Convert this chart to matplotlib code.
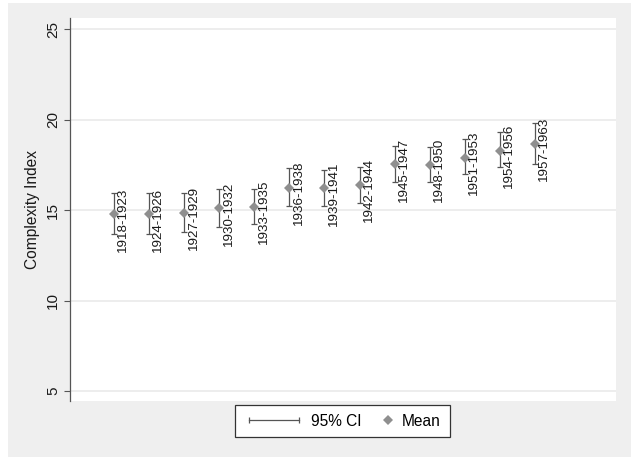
import matplotlib
matplotlib.use("Agg")
import matplotlib.pyplot as plt
import numpy as np
from matplotlib.lines import Line2D
from matplotlib.legend_handler import HandlerLine2D
from matplotlib.patches import Rectangle

plt.rcParams['font.family'] = ['Liberation Sans', 'DejaVu Sans']

periods = ["1918-1923", "1924-1926", "1927-1929", "1930-1932", "1933-1935",
           "1936-1938", "1939-1941", "1942-1944", "1945-1947", "1948-1950",
           "1951-1953", "1954-1956", "1957-1963"]
mean = [14.76, 14.76, 14.85, 15.09, 15.18, 16.23, 16.20, 16.38, 17.52, 17.49,
        17.89, 18.28, 18.65]
ci_low = [13.66, 13.66, 13.77, 14.04, 14.21, 15.24, 15.22, 15.40, 16.53, 16.53,
          16.97, 17.39, 17.54]
ci_high = [15.92, 15.92, 15.92, 16.16, 16.16, 17.30, 17.21, 17.36, 18.55, 18.46,
           18.91, 19.33, 19.82]
yticks = [5, 10, 15, 20, 25]

W, H = 631, 457
fig = plt.figure(figsize=(W / 100, H / 100), dpi=100)
fig.patch.set_facecolor("white")
fig.patches.append(Rectangle((8 / W, 0), 1 - 8 / W, 1 - 3 / H, transform=fig.transFigure,
                             facecolor="#efefef", edgecolor="none", zorder=-10))

ax = fig.add_axes([70 / W, 1 - 401 / H, (616 - 70) / W, (401 - 18) / H])
ax.set_facecolor("white")

x = np.arange(1, len(periods) + 1)
m = np.array(mean)
lo = np.array(ci_low)
hi = np.array(ci_high)

ci_color = "#555555"
mk_color = "#8f8f8f"

ax.errorbar(x, m, yerr=[m - lo, hi - m], fmt="none", ecolor=ci_color,
            elinewidth=0.9, capsize=2.3, capthick=0.9, zorder=3)
ax.plot(x, m, linestyle="none", marker="D", markersize=4.8, color=mk_color,
        markeredgewidth=0, zorder=4)
for xi, mi, lab in zip(x, m, periods):
    ax.annotate(lab, (xi, mi), xytext=(2.4, -3.8), textcoords="offset points",
                rotation=90, ha="left", va="center", fontsize=9.6, color="#1a1a1a",
                zorder=5)

ax.set_xlim(-0.254, 15.31)
ax.set_ylim(4.45, 25.61)
ax.set_yticks(yticks)
ax.set_yticklabels([str(t) for t in yticks], rotation=90, va="center", fontsize=11,
                   color="#1a1a1a")
ax.tick_params(axis="y", length=4.3, width=0.8, color="#555555", pad=3)
ax.set_xticks([])
ax.grid(axis="y", color="#eaeaea", linewidth=1.2)
ax.set_axisbelow(True)
for s in ["top", "right", "bottom"]:
    ax.spines[s].set_visible(False)
ax.spines["left"].set_color("#555555")
ax.spines["left"].set_linewidth(0.9)
ax.set_ylabel("Complexity Index", fontsize=11.2, color="#1a1a1a", labelpad=4)


class WidthHandler(HandlerLine2D):
    def __init__(self, width, **kw):
        super().__init__(**kw)
        self.w = width

    def legend_artist(self, legend, orig_handle, fontsize, handlebox):
        handlebox.width = self.w
        return super().legend_artist(legend, orig_handle, fontsize, handlebox)


h_ci = Line2D([0, 1], [0, 0], color=ci_color, linewidth=0.9, marker="|",
              markersize=4.5, markeredgewidth=0.9)
h_mean = Line2D([], [], linestyle="none", marker="D", markersize=4.8,
                color=mk_color, markeredgewidth=0)
leg = fig.legend([h_ci, h_mean], ["95% CI", "Mean"], ncol=2,
                 loc="center", bbox_to_anchor=(342.5 / W, 1 - 421 / H),
                 bbox_transform=fig.transFigure, fontsize=11.2,
                 handler_map={h_ci: WidthHandler(43, numpoints=2),
                              h_mean: WidthHandler(11, numpoints=1)},
                 handletextpad=0.45, columnspacing=1.2, borderpad=0.55,
                 fancybox=False, frameon=True, edgecolor="#333333",
                 framealpha=1, facecolor="white")
leg.get_frame().set_linewidth(0.9)

fig.savefig("out.png", dpi=100, facecolor=fig.get_facecolor())
